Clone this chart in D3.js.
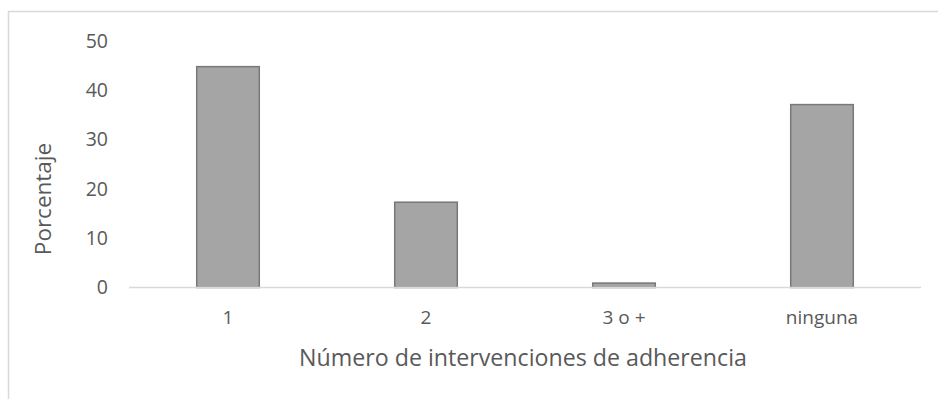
<!DOCTYPE html>
<html>
<head>
<meta charset="utf-8">
<script src="https://cdn.jsdelivr.net/npm/d3@7"></script>
<style>
  html, body { margin: 0; padding: 0; background: #fff; }
  svg { display: block; font-family: "Open Sans", "Noto Sans", sans-serif; }
</style>
</head>
<body>
<svg id="chart" width="938" height="399"></svg>
<script>
// Distribución por número de intervenciones de adherencia
const categories = ["1", "2", "3 o +", "ninguna"];
const values = [44.8, 17.3, 0.9, 37.1];
const yTicks = [0, 10, 20, 30, 40, 50];
const xTitle = "Número de intervenciones de adherencia";
const yTitle = "Porcentaje";

const svg = d3.select("#chart");
const W = 938, H = 399;
const plot = { left: 129, right: 921, top: 41, bottom: 287.5 };
const ink = "#595959";
const font = "\"Open Sans\", sans-serif";

// Chart-area frame
svg.append("rect")
  .attr("x", 8.5).attr("y", 11.5)
  .attr("width", W + 10).attr("height", H + 10)
  .attr("fill", "none").attr("stroke", "#d9d9d9").attr("stroke-width", 1.5);

const x = d3.scaleBand()
  .domain(categories)
  .range([plot.left, plot.right])
  .paddingInner(0.684)
  .paddingOuter(0.342);

const y = d3.scaleLinear().domain([0, 50]).range([plot.bottom, plot.top]);

// Bars
svg.append("g").selectAll("rect")
  .data(values)
  .join("rect")
  .attr("x", (d, i) => x(categories[i]))
  .attr("y", d => y(d))
  .attr("width", x.bandwidth())
  .attr("height", d => y(0) - y(d))
  .attr("fill", "#a5a5a5")
  .attr("stroke", "#787878")
  .attr("stroke-width", 1.5);

// Category axis (baseline only)
const xAxis = svg.append("g")
  .attr("transform", `translate(0,${plot.bottom})`)
  .call(d3.axisBottom(x).tickSize(0).tickPadding(23));
xAxis.select(".domain").attr("stroke", "#d9d9d9").attr("stroke-width", 1.5)
  .attr("d", `M${plot.left},0H${plot.right}`);
xAxis.selectAll("text").attr("fill", ink).attr("font-size", 19)
  .attr("font-family", font);

// Value axis (labels only)
const yAxis = svg.append("g")
  .attr("transform", `translate(${plot.left},0)`)
  .call(d3.axisLeft(y).tickValues(yTicks).tickSize(0).tickPadding(21));
yAxis.select(".domain").remove();
yAxis.selectAll("text").attr("fill", ink).attr("font-size", 19.5)
  .attr("font-family", font);

// Axis titles
svg.append("text")
  .attr("x", (plot.left + plot.right) / 2 - 2).attr("y", 366)
  .attr("text-anchor", "middle")
  .attr("fill", ink).attr("font-size", 23.2)
  .text(xTitle);

svg.append("text")
  .attr("transform", `translate(51,199) rotate(-90)`)
  .attr("text-anchor", "middle")
  .attr("fill", ink).attr("font-size", 22.5)
  .text(yTitle);
</script>
</body>
</html>
